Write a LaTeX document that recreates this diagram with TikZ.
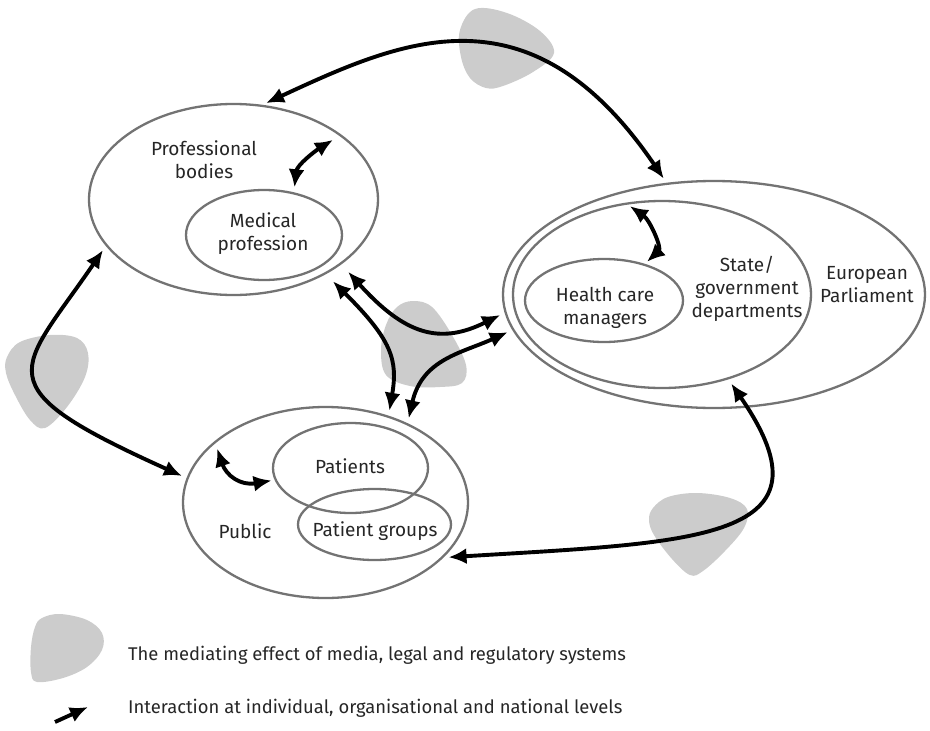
\documentclass[tikz,border=0pt]{standalone}
\usepackage{fontspec}
\setmainfont{Fira Sans}
\usetikzlibrary{shapes.geometric, arrows.meta}

\begin{document}
\begin{tikzpicture}[
	x=1pt, y=-1pt,
	e/.style = {ellipse, draw=black!55, line width=2.3pt, inner sep=0pt},
	t/.style = {align=center, inner sep=0pt, text=black!85, font=\fontsize{19}{23}\selectfont},
	k/.style = {anchor=base west, inner sep=0pt, text=black!85, font=\fontsize{18.4}{22}\selectfont},
	m/.style = {fill=black!20},
	r/.style = {{Latex[length=18pt, width=16pt]}-{Latex[length=18pt, width=16pt]}, line width=3.9pt, shorten <=5pt, shorten >=5pt}
	]

	\useasboundingbox (0,0) rectangle (930,731);

	%Media blobs
	\fill[m] plot[smooth cycle, tension=0.6] coordinates {(460,30) (475,9) (507,13) (540,31) (554,53) (533,72) (503,86) (486,88) (470,78) (461,57)};
	\fill[m] plot[smooth cycle, tension=0.6] coordinates {(7,357) (20,342) (50,335) (77,338) (88,353) (85,377) (67,407) (45,428) (30,420) (15,395) (6,373)};
	\fill[m] plot[smooth cycle, tension=0.6] coordinates {(413,301) (397,307) (386,325) (381,350) (386,375) (410,386) (440,387) (462,383) (466,365) (452,335) (432,307)};
	\fill[m] plot[smooth cycle, tension=0.6] coordinates {(653,508) (668,497) (697,493) (730,498) (747,509) (744,528) (725,551) (703,571) (690,575) (672,559) (654,535) (649,520)};

	%Ellipses
	\node[e, minimum width=289, minimum height=191]	(prof)	at	(233.5, 199.5)	{};
	\node[e, minimum width=156, minimum height=90]	(med)	at	(264, 235)	{};
	\node[e, minimum width=422, minimum height=227]	(euro)	at	(714, 294.5)	{};
	\node[e, minimum width=298, minimum height=187]	(state)	at	(662, 294.5)	{};
	\node[e, minimum width=158, minimum height=83]	(hcm)	at	(604, 300.5)	{};
	\node[e, minimum width=285, minimum height=191]	(pub)	at	(325.5, 502.5)	{};
	\node[e, minimum width=155, minimum height=90]	(pat)	at	(350.5, 468)	{};
	\node[e, minimum width=153, minimum height=71]	(grp)	at	(374.5, 524.5)	{};

	%Labels
	\node[t]	(profL)		at	(204, 160)	{Professional\\bodies};
	\node[t]	(medL)		at	(263, 234)	{Medical\\profession};
	\node[t]	(euroL)		at	(867, 285)	{European\\Parliament};
	\node[t]	(stateL)	at	(747, 289)	{State/\\government\\departments};
	\node[t]	(hcmL)		at	(605, 308)	{Health care\\managers};
	\node[t]	(pubL)		at	(245, 531)	{Public};
	\node[t]	(patL)		at	(350, 466)	{Patients};
	\node[t]	(grpL)		at	(375, 531)	{Patient groups};

	%Lines
	\draw[r, shorten <=4pt]	(prof.73)	.. controls (402, 40) and (530, -18)	.. (euro.113);
	\draw[r]	(prof.200)	.. controls (19, 373) and (-20, 385)	.. (pub.170);
	\draw[r]	(state.-52)	.. controls (840, 541) and (698, 542)	.. (pub.-25);
	\draw[r, shorten <=10pt]	(prof.-31)	.. controls (405, 335) and (440, 345)	.. (euro.185);
	\draw[r, shorten <=10pt]	(prof.-39)	.. controls (392, 340) and (398, 360)	.. (pub.54);
	\draw[r]	(pub.44)	.. controls (422, 359) and (462, 353)	.. (euro.190);
	\draw[r, shorten >=10pt]	(med.55)	.. controls (297, 165) and (315, 151)	.. (prof.31);
	\draw[r, shorten <=6pt, shorten >=3pt]	(state.112)	.. controls (650, 220) and (662, 248)	.. (hcm.42);
	\draw[r, shorten <=8pt, shorten >=3pt]	(pub.151)	.. controls (226, 475) and (240, 486)	.. (pat.189);

	%Legend
	\fill[m] plot[smooth cycle, tension=0.6] coordinates {(42,618) (60,614) (87,620) (102,633) (102,650) (87,667) (63,678) (37,682) (31,672) (31,647) (35,627)};
	\node[k]	(mediaL)	at	(128, 660)	{The mediating effect of media, legal and regulatory systems};
	\coordinate	(k1)	at	(55, 722);
	\coordinate	(k2)	at	(88, 707);
	\draw[-{Latex[length=18pt, width=16pt]}, line width=3.9pt]	(k1) -- (k2);
	\node[k]	(linkL)		at	(128, 713)	{Interaction at individual, organisational and national levels};
\end{tikzpicture}
\end{document}
